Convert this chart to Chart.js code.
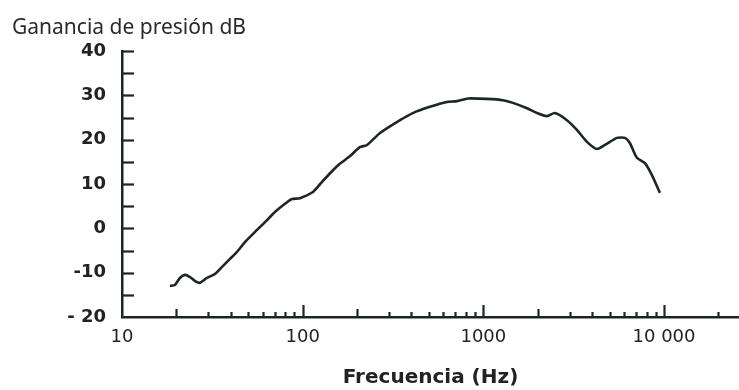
<!DOCTYPE html>
<html>
<head>
<meta charset="utf-8">
<script src="https://cdn.jsdelivr.net/npm/chart.js@4/dist/chart.umd.min.js"></script>
<style>
  html, body { margin: 0; padding: 0; background: #fff; }
  #wrap { width: 739px; height: 390px; }
</style>
</head>
<body>
<div id="wrap"><canvas id="chart" width="739" height="390"></canvas></div>
<script>
// frequency response
const freqHz = [18.4, 19.6, 20.9, 22.3, 23.8, 25.4, 27.0, 29.5, 32.7, 35.8, 39.6, 43.3, 47.9, 54.5, 61.9, 70.2, 81.9, 87.3, 96.6,
  114, 125, 143, 161, 183, 207, 227, 268, 346, 407, 506, 629, 714, 822, 1047, 1284, 1458, 1743, 1980, 2249, 2490,
  2901, 3296, 3744, 4253, 4710, 5488, 6076, 6477, 7080, 7840, 8570, 9490];
const gainDb = [-13.0, -12.8, -11.2, -10.5, -11.0, -11.9, -12.3, -11.2, -10.3, -8.7, -6.9, -5.3, -3.1, -0.8, 1.4, 3.7, 5.9, 6.6, 6.8,
  8.2, 10.0, 12.6, 14.6, 16.3, 18.3, 18.8, 21.5, 24.4, 26.0, 27.4, 28.5, 28.7, 29.3, 29.2, 28.9, 28.3, 27.1, 26.0, 25.3, 26.0,
  24.4, 22.2, 19.5, 17.9, 18.8, 20.4, 20.4, 19.2, 15.9, 14.7, 12.0, 8.0];

const xTickValues = [10, 100, 1000, 10000];
const xTickLabels = ['10', '100', '1000', '10 000'];
const yTickValues = [-20, -10, 0, 10, 20, 30, 40];
const yTickLabels = ['- 20', '-10', '0', '10', '20', '30', '40'];

const INK = '#1c2626';

// ticks drawn inside the axes, like the printed figure
const innerTicks = {
  id: 'innerTicks',
  afterDraw(chart) {
    const { ctx, chartArea, scales: { x, y } } = chart;
    ctx.save();
    ctx.strokeStyle = INK;
    ctx.lineWidth = 2.2;
    for (let v = -15; v <= 40; v += 5) {
      const py = Math.round(y.getPixelForValue(v)) + 0.5;
      ctx.beginPath();
      ctx.moveTo(chartArea.left, py);
      ctx.lineTo(chartArea.left + 12, py);
      ctx.stroke();
    }
    for (let dec = 10; dec <= 10000; dec *= 10) {
      for (let m = 1; m <= 9; m++) {
        const v = dec * m;
        if (v === 10 || v > 26000) continue;
        const px = Math.round(x.getPixelForValue(v)) + 0.5;
        const len = m === 1 ? 12 : (m === 2 && dec < 10000 ? 8 : 5);
        ctx.beginPath();
        ctx.moveTo(px, chartArea.bottom);
        ctx.lineTo(px, chartArea.bottom - len);
        ctx.stroke();
      }
    }
    ctx.restore();
  }
};

new Chart(document.getElementById('chart'), {
  type: 'line',
  data: {
    datasets: [{
      data: freqHz.map((f, i) => ({ x: f, y: gainDb[i] })),
      borderColor: INK,
      borderWidth: 2.6,
      pointRadius: 0,
      tension: 0.2,
      fill: false
    }]
  },
  options: {
    responsive: false,
    animation: false,
    devicePixelRatio: 1,
    layout: { padding: { left: 12, top: 0, right: 0, bottom: 0 } },
    plugins: {
      legend: { display: false },
      tooltip: { enabled: false },
      title: {
        display: true,
        text: 'Ganancia de presión dB',
        align: 'start',
        color: '#2a2a2a',
        font: { family: 'Noto Sans', size: 21, weight: 'normal', lineHeight: 1.2 },
        padding: { top: 15.4, bottom: 10.4 }
      }
    },
    scales: {
      x: {
        type: 'logarithmic',
        min: 10,
        max: 26000,
        afterBuildTicks: s => { s.ticks = xTickValues.map(v => ({ value: v })); },
        afterFit: s => { s.height = 73; },
        grid: { display: false },
        border: { display: true, color: INK, width: 2.5 },
        ticks: {
          color: '#222',
          padding: 2,
          maxRotation: 0,
          autoSkip: false,
          font: { family: 'DejaVu Sans', size: 18 },
          callback: (v, i) => xTickLabels[i]
        },
        title: {
          display: true,
          text: 'Frecuencia (Hz)',
          color: '#222',
          font: { family: 'DejaVu Sans', size: 20, weight: 'bold', lineHeight: 1.2 },
          padding: { top: 0, bottom: 0 }
        }
      },
      y: {
        min: -20,
        max: 40,
        afterBuildTicks: s => { s.ticks = yTickValues.map(v => ({ value: v })); },
        afterFit: s => { s.width = 110; },
        grid: { display: false },
        border: { display: true, color: INK, width: 2.5 },
        ticks: {
          color: '#222',
          padding: 8,
          font: { family: 'DejaVu Sans', size: 18, weight: 'bold' },
          callback: (v, i) => yTickLabels[i]
        }
      }
    }
  },
  plugins: [innerTicks]
});
</script>
</body>
</html>
